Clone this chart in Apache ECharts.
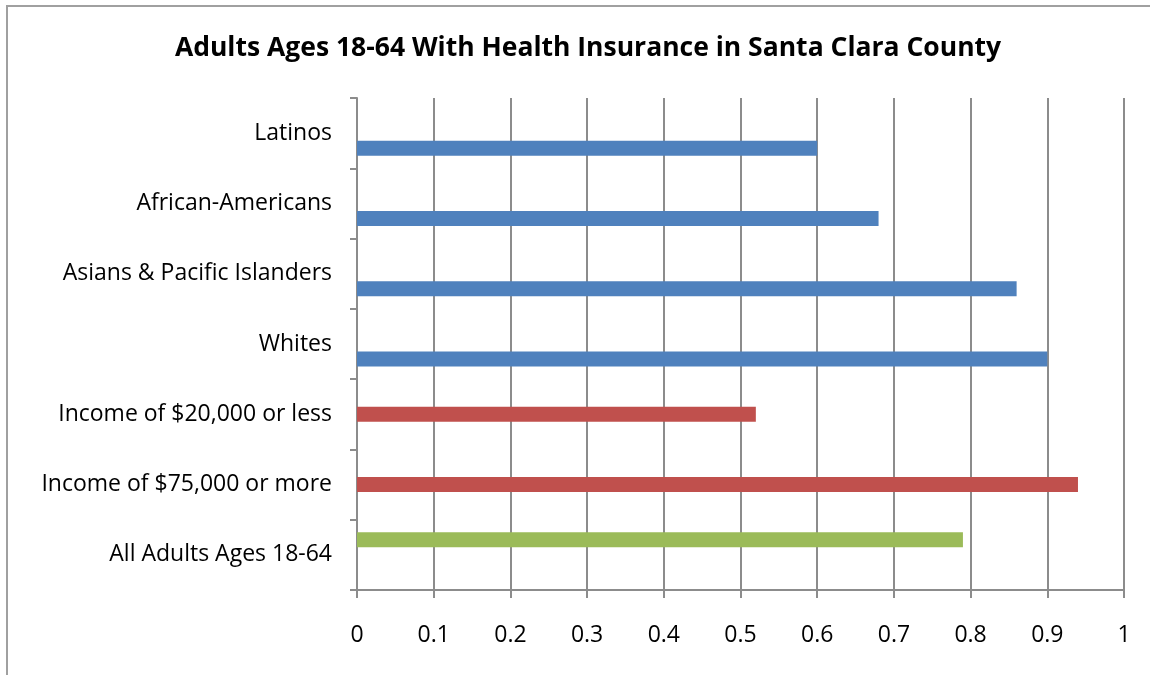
<!DOCTYPE html>
<html lang="en" style="height: 100%">
<head>
    <meta charset="UTF-8">
    <title>Adults Ages 18-64 With Health Insurance</title>
    <script src="https://cdn.jsdelivr.net/npm/echarts@6/dist/echarts.min.js"></script>
</head>
<body style="height: 100%; margin: 0;">
    <div id="main" style="width: 1150px; height: 675px"></div>
    <script>
        // categories, top to bottom
        var categories = [
            "Latinos",
            "African-Americans",
            "Asians & Pacific Islanders",
            "Whites",
            "Income of $20,000 or less",
            "Income of $75,000 or more",
            "All Adults Ages 18-64"
        ];
        // one list per series (clustered bars, so each sits in its own slot)
        var raceValues   = [0.60, 0.68, 0.86, 0.90, null, null, null];
        var incomeValues = [null, null, null, null, 0.52, 0.94, null];
        var allValues    = [null, null, null, null, null, null, 0.79];
        var xTicks = [0, 0.1, 0.2, 0.3, 0.4, 0.5, 0.6, 0.7, 0.8, 0.9, 1];

        var font = "'Open Sans', sans-serif";
        var lineColor = '#8c8c8c';

        var myChart = echarts.init(document.getElementById('main'));

        function barSeries(name, data, color) {
            return {
                name: name,
                type: 'bar',
                barWidth: 15,
                barGap: '0%',
                itemStyle: { color: color },
                data: data
            };
        }

        var option = {
            animation: false,
            backgroundColor: '#fff',
            title: {
                text: 'Adults Ages 18-64 With Health Insurance in Santa Clara County',
                left: 583,
                top: 30,
                textAlign: 'center',
                textStyle: {
                    fontFamily: font,
                    fontSize: 26.5,
                    fontWeight: 'bold',
                    color: '#000'
                }
            },
            graphic: [{
                type: 'polyline',
                shape: { points: [[7, 675], [7, 6], [1150, 6]] },
                style: { stroke: '#a0a0a0', lineWidth: 2, fill: null }
            }],
            grid: {
                left: 357,
                right: 26,
                top: 98,
                bottom: 85
            },
            xAxis: {
                type: 'value',
                min: xTicks[0],
                max: xTicks[xTicks.length - 1],
                interval: 0.1,
                axisLine: { show: true, lineStyle: { color: lineColor, width: 2 } },
                axisTick: { show: true, length: 8, lineStyle: { color: lineColor, width: 2 } },
                splitLine: { show: true, lineStyle: { color: lineColor, width: 2 } },
                axisLabel: {
                    margin: 34,
                    fontFamily: font,
                    fontSize: 23,
                    color: '#000',
                    formatter: function (v) {
                        return String(Math.round(v * 10) / 10);
                    }
                }
            },
            yAxis: {
                type: 'category',
                inverse: true,
                data: categories,
                axisLine: { show: true, lineStyle: { color: lineColor, width: 2 } },
                axisTick: { show: true, length: 7, lineStyle: { color: lineColor, width: 2 } },
                axisLabel: {
                    margin: 25,
                    fontFamily: font,
                    fontSize: 23,
                    color: '#000'
                }
            },
            series: [
                barSeries('All adults', allValues, '#9BBB59'),
                barSeries('Income', incomeValues, '#C0504D'),
                barSeries('Race / ethnicity', raceValues, '#4F81BD')
            ]
        };
        myChart.setOption(option);
    </script>
</body>
</html>
